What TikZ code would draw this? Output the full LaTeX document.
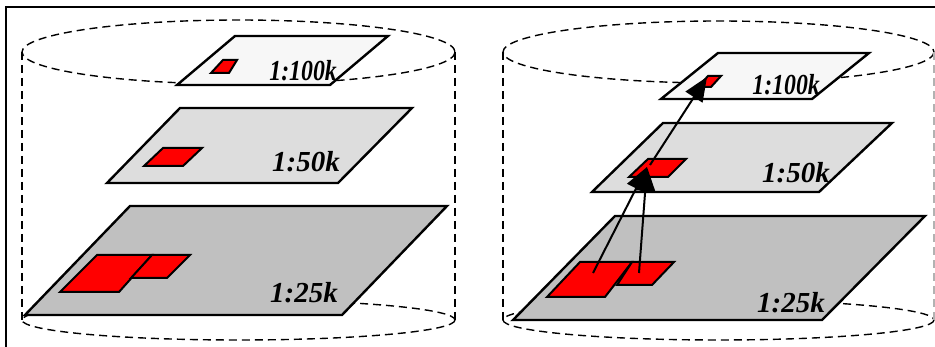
\documentclass[tikz,border=0pt]{standalone}
\usepackage{fontspec}
\setmainfont{Liberation Serif}
\usetikzlibrary{arrows.meta}
\definecolor{sheettop}{HTML}{F7F7F7}
\definecolor{sheetmid}{HTML}{DDDDDD}
\definecolor{sheetlow}{HTML}{C0C0C0}

\begin{document}
\begin{tikzpicture}[x=1pt,y=-1pt,line join=miter,
  cyl/.style={dash pattern=on 8pt off 5pt,line width=1.4pt},
  sheet/.style={draw,line width=2.4pt},
  patch/.style={draw,fill=red,line width=2pt},
  scalelbl/.style={font=\fontsize{29}{29}\selectfont\bfseries\itshape,anchor=base east,inner sep=0pt},
  link/.style={-{Triangle[length=24pt,width=20pt]},line width=2pt}]
  \useasboundingbox (0,0) rectangle (935,347);
  % frame
  \draw[line width=2pt] (6,347) -- (6,7) -- (935,7);
  % left cylinder
  \draw[cyl] (238.5,52) ellipse [x radius=216.5,y radius=32];
  \draw[cyl] (238.5,320) ellipse [x radius=216.5,y radius=20];
  \draw[cyl] (22,52) -- (22,320);
  \draw[cyl] (455,52) -- (455,320);
  % right cylinder
  \draw[cyl] (718.5,52) ellipse [x radius=215.5,y radius=31];
  \draw[cyl] (718.5,320) ellipse [x radius=215.5,y radius=20];
  \draw[cyl] (503,52) -- (503,320);
  \draw[cyl,gray!60] (934,52) -- (934,320);
  % left sheets
  \draw[sheet,fill=sheettop] (235,36) -- (388,36) -- (330,85) -- (177,85) -- cycle;
  \draw[sheet,fill=sheetmid] (180,108) -- (412,108) -- (338,183) -- (107,183) -- cycle;
  \draw[sheet,fill=sheetlow] (130,206) -- (447,206) -- (342,315) -- (25,315) -- cycle;
  % left patches
  \draw[patch] (223,60) -- (237,60) -- (229,73) -- (211,73) -- cycle;
  \draw[patch] (163,148) -- (202,148) -- (183,166) -- (144,166) -- cycle;
  \draw[patch] (97,255) -- (152,255) -- (119,292) -- (60,292) -- cycle;
  \draw[patch] (152,255) -- (190,255) -- (167,278) -- (131,278) -- cycle;
  % right sheets
  \draw[sheet,fill=sheettop] (718,53) -- (869,53) -- (812,99) -- (661,99) -- cycle;
  \draw[sheet,fill=sheetmid] (663,123) -- (892,123) -- (819,192) -- (592,192) -- cycle;
  \draw[sheet,fill=sheetlow] (615,216) -- (925,216) -- (822,320) -- (513,320) -- cycle;
  % right patches
  \draw[patch] (708,76) -- (721,76) -- (711,87) -- (698,87) -- cycle;
  \draw[patch] (648,159) -- (686,159) -- (668,177) -- (629,177) -- cycle;
  \draw[patch] (580,262) -- (632,262) -- (605,297) -- (547,297) -- cycle;
  \draw[patch] (632,262) -- (674,262) -- (652,285) -- (617,285) -- cycle;
  % scale labels
  \node[scalelbl] (l100) at (337,81) {\scalebox{0.82}[1]{1:100k}};
  \node[scalelbl] (l50) at (340,172) {1:50k};
  \node[scalelbl] (l25) at (338,303) {1:25k};
  \node[scalelbl] (r100) at (820,95) {\scalebox{0.82}[1]{1:100k}};
  \node[scalelbl] (r50) at (830,183) {1:50k};
  \node[scalelbl] (r25) at (825,313) {1:25k};
  % generalisation links
  \coordinate (bigpatch) at (593,273);
  \coordinate (smallpatch) at (639,273);
  \coordinate (midpatch) at (647,167);
  \coordinate (midstart) at (650,165);
  \coordinate (toppatch) at (707,77);
  \draw[link] (bigpatch) -- (midpatch);
  \draw[link] (smallpatch) -- (midpatch);
  \draw[link] (midstart) -- (toppatch);
\end{tikzpicture}
\end{document}
